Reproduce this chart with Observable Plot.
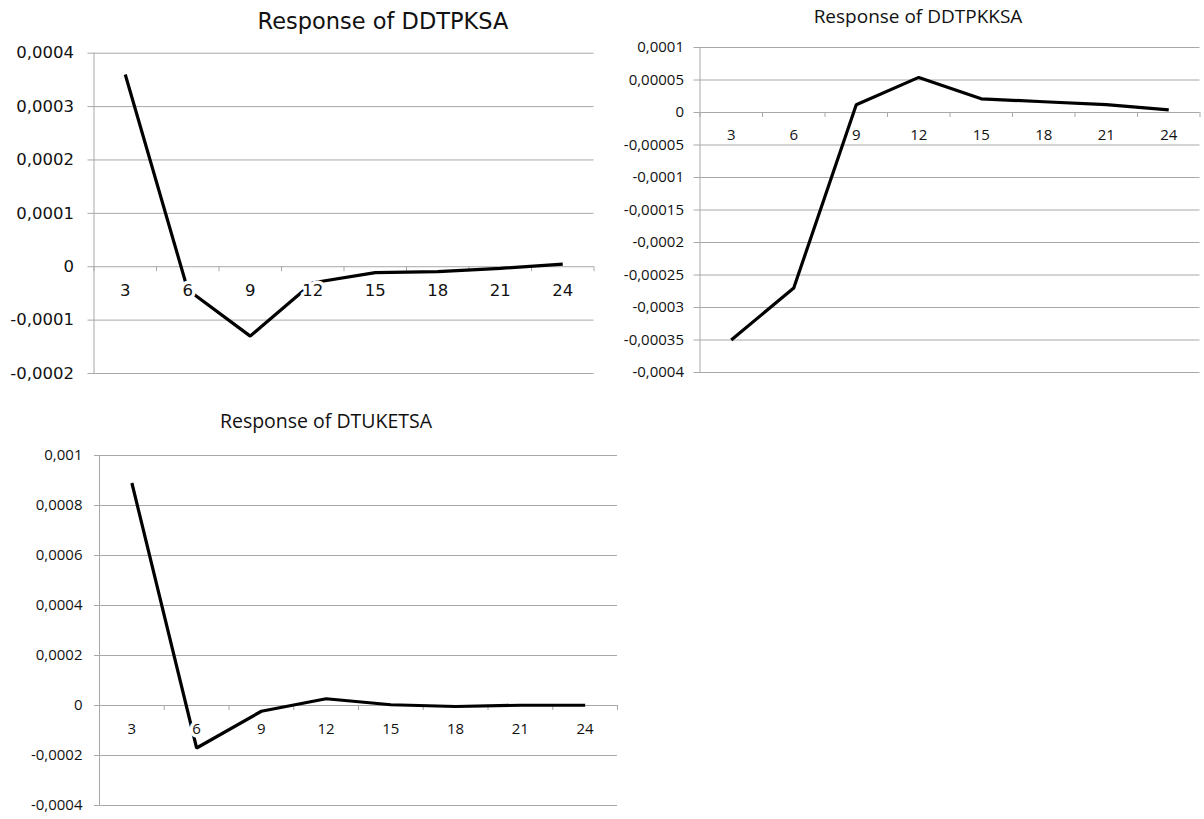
<!DOCTYPE html>
<html>
<head>
<meta charset="utf-8">
<script src="https://cdn.jsdelivr.net/npm/d3@7"></script>
<script src="https://cdn.jsdelivr.net/npm/@observablehq/plot@0.6"></script>
<style>
  html, body { margin: 0; padding: 0; background: #ffffff; }
  #page { position: relative; width: 1204px; height: 819px; overflow: hidden; background: #ffffff; }
  .panel { position: absolute; }
  .panel svg { max-width: none; }
  .title { position: absolute; white-space: nowrap; color: #111111; line-height: 1; transform: translate(-50%, -50%); }
</style>
</head>
<body>
<div id="page"></div>
<script>
// ---- data ----
const horizons = [3, 6, 9, 12, 15, 18, 21, 24];

const ddtpksa  = [0.00036, -0.000043, -0.00013, -0.00003, -0.000011, -0.000009, -0.000003, 0.000005];
const ddtpkksa = [-0.00035, -0.00027, 0.000012, 0.000054, 0.000021, 0.0000165, 0.000012, 0.000004];
const dtuketsa = [0.00089, -0.00017, -0.000023, 0.000027, 0.000003, -0.000004, 0.000001, 0.000001];

const yTicksDDTPKSA  = [-0.0002, -0.0001, 0, 0.0001, 0.0002, 0.0003, 0.0004];
const yTicksDDTPKKSA = [-0.0004, -0.00035, -0.0003, -0.00025, -0.0002, -0.00015, -0.0001, -0.00005, 0, 0.00005, 0.0001];
const yTicksDTUKETSA = [-0.0004, -0.0002, 0, 0.0002, 0.0004, 0.0006, 0.0008, 0.001];

const titles = ["Response of DDTPKSA", "Response of DDTPKKSA", "Response of DTUKETSA"];

// ---- helpers ----
const gridColor = "#a8a8a8";
const textColor = "#111111";
const fmt = v => Math.abs(v) < 1e-12 ? "0" : String(+v.toFixed(6)).replace(".", ",");
const step = horizons[1] - horizons[0];
const bounds = horizons.map(h => h - step / 2).concat([horizons[horizons.length - 1] + step / 2]);
const xDomain = [bounds[0], bounds[bounds.length - 1]];

function panel(cfg) {
  const data = horizons.map((h, i) => ({h, v: cfg.values[i]}));
  const plot = Plot.plot({
    width: cfg.width,
    height: cfg.height,
    marginLeft: cfg.ml, marginRight: cfg.mr, marginTop: cfg.mt, marginBottom: cfg.mb,
    x: {type: "linear", domain: xDomain, axis: null},
    y: {type: "linear", domain: [cfg.ticks[0], cfg.ticks[cfg.ticks.length - 1]], axis: null},
    style: {background: "white", overflow: "visible"},
    marks: [
      Plot.ruleY(cfg.ticks, {y: d => d, stroke: gridColor, strokeWidth: 1, insetLeft: -cfg.tick}),
      Plot.ruleX([xDomain[0]], {x: d => d, stroke: gridColor, strokeWidth: 1}),
      Plot.ruleX(bounds, {x: d => d, y1: 0, y2: 0, insetBottom: -5, stroke: gridColor, strokeWidth: 1}),
      Plot.text(cfg.ticks, {y: d => d, text: d => fmt(d), frameAnchor: "left", textAnchor: "end",
        dx: -(cfg.tick + cfg.pad), fill: textColor, fontSize: cfg.fs, fontFamily: cfg.font}),
      Plot.line(data, {x: "h", y: "v", stroke: "#000", strokeWidth: 3.2, strokeLinejoin: "miter", strokeLinecap: "butt"}),
      Plot.text(horizons, {x: d => d, y: () => 0, text: d => String(d), dy: cfg.xdy,
        fill: textColor, stroke: "white", strokeWidth: 7, paintOrder: "stroke",
        fontSize: cfg.fs, fontFamily: cfg.font})
    ]
  });
  const div = document.createElement("div");
  div.className = "panel";
  div.style.left = cfg.left + "px";
  div.style.top = cfg.top + "px";
  div.style.width = cfg.width + "px";
  div.style.height = cfg.height + "px";
  div.appendChild(plot);
  document.getElementById("page").appendChild(div);

  const t = document.createElement("div");
  t.className = "title";
  t.textContent = cfg.title;
  t.style.left = cfg.tx + "px";
  t.style.top = cfg.ty + "px";
  t.style.fontSize = cfg.tfs + "px";
  t.style.fontFamily = cfg.font;
  document.getElementById("page").appendChild(t);
}

panel({
  title: titles[0], values: ddtpksa, ticks: yTicksDDTPKSA,
  left: 0, top: 0, width: 600, height: 400,
  ml: 93.5, mr: 6.5, mt: 52.7, mb: 27,
  font: "DejaVu Sans", fs: 16.5, tick: 6, pad: 14, xdy: 24,
  tx: 383, ty: 21, tfs: 22.5
});

panel({
  title: titles[1], values: ddtpkksa, ticks: yTicksDDTPKKSA,
  left: 600, top: 0, width: 604, height: 400,
  ml: 99.5, mr: 4.5, mt: 47, mb: 28,
  font: "Open Sans", fs: 15, tick: 6, pad: 10, xdy: 23,
  tx: 918, ty: 16, tfs: 19
});

panel({
  title: titles[2], values: dtuketsa, ticks: yTicksDTUKETSA,
  left: 0, top: 400, width: 620, height: 419,
  ml: 99, mr: 3, mt: 55, mb: 14,
  font: "Open Sans", fs: 15, tick: 5, pad: 12, xdy: 24,
  tx: 326, ty: 421, tfs: 19.5
});
</script>
</body>
</html>
